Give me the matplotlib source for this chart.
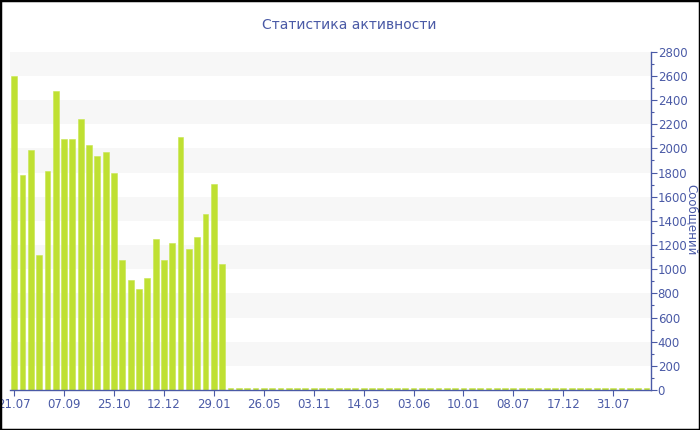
import matplotlib
matplotlib.use("Agg")
import matplotlib.pyplot as plt
from matplotlib.patches import Rectangle
from matplotlib.ticker import MultipleLocator, FixedLocator

title = "Статистика активности"
y_label = "Сообщений"
tick_labels = ["21.07", "07.09", "25.10", "12.12", "29.01", "26.05", "03.11",
               "14.03", "03.06", "10.01", "08.07", "17.12", "31.07"]
tick_every = 6

values_active = [2600, 1780, 1990, 1115, 1810, 2475, 2080, 2075, 2240, 2030,
                 1935, 1970, 1795, 1075, 910, 840, 925, 1250, 1075, 1215,
                 2090, 1165, 1265, 1455, 1705, 1045]
values_quiet = [18, 15, 14, 15, 14, 15, 16, 14, 15, 14,
                15, 14, 15, 16, 14, 15, 14, 15, 14, 15,
                16, 14, 15, 14, 15, 14, 15, 16, 14, 15,
                14, 15, 14, 15, 16, 14, 15, 14, 15, 14,
                15, 16, 14, 15, 14, 15, 14, 15, 16, 14, 15]
values = values_active + values_quiet

BLUE = "#4a5aa6"
BAR = "#bfe032"
BAND = "#f7f7f7"

fig = plt.figure(figsize=(7, 4.3), dpi=100)
ax = fig.add_axes([10/700, 1 - 390/430, 640.7/700, (390 - 51.7)/430])

n = len(values)
x = list(range(n))
ax.set_xlim(-0.5, n - 0.5)
ax.set_ylim(0, 2800)

for lo in range(200, 2800, 400):
    ax.axhspan(lo, lo + 200, color=BAND, lw=0, zorder=0)

ax.bar(x, values, width=0.7, color=BAR, edgecolor="#c8e650", linewidth=0.4, zorder=2)

ax.yaxis.tick_right()
ax.yaxis.set_major_locator(MultipleLocator(200))
ax.yaxis.set_minor_locator(MultipleLocator(100))
ax.tick_params(axis="y", which="major", length=4, width=0.8, color=BLUE,
               labelcolor=BLUE, labelsize=8.5, pad=1)
ax.tick_params(axis="y", which="minor", length=2.5, width=0.8, color=BLUE)

ticks = [i * tick_every for i in range(len(tick_labels))]
ax.xaxis.set_major_locator(FixedLocator(ticks))
ax.set_xticklabels(tick_labels)
ax.tick_params(axis="x", which="major", length=4, width=0.8, color=BLUE,
               labelcolor=BLUE, labelsize=8.5, pad=2)

for s in ["top", "left"]:
    ax.spines[s].set_visible(False)
ax.spines["bottom"].set_color(BLUE)
ax.spines["right"].set_color(BLUE)
ax.spines["bottom"].set_linewidth(1.0)
ax.spines["right"].set_linewidth(1.0)

fig.text(692/700, 1 - 220/430, y_label, rotation=270, ha="center", va="center",
         color=BLUE, fontsize=8.5)

fig.text(349/700, 1 - 25/430, title, ha="center", va="center",
         color=BLUE, fontsize=10)

fig.patches.append(Rectangle((0, 0), 1, 1, transform=fig.transFigure,
                             fill=False, edgecolor="black", linewidth=2.5,
                             zorder=10))

fig.savefig("out.png", dpi=100)
